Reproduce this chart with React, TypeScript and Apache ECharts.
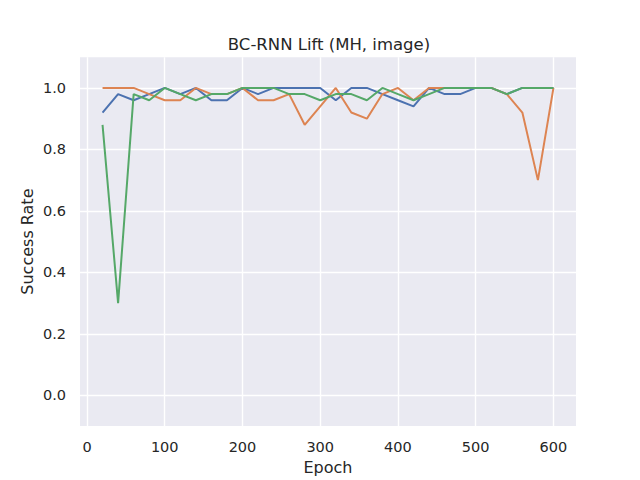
import React, { useEffect, useRef } from "react";
import * as echarts from "echarts";

const epochs = [20, 40, 60, 80, 100, 120, 140, 160, 180, 200, 220, 240, 260, 280, 300, 320, 340, 360, 380, 400, 420, 440, 460, 480, 500, 520, 540, 560, 580, 600];
const seriesBlue = [0.92, 0.98, 0.96, 0.98, 1.0, 0.98, 1.0, 0.96, 0.96, 1.0, 0.98, 1.0, 1.0, 1.0, 1.0, 0.96, 1.0, 1.0, 0.98, 0.96, 0.94, 1.0, 0.98, 0.98, 1.0, 1.0, 0.98, 1.0, 1.0, 1.0];
const seriesOrange = [1.0, 1.0, 1.0, 0.98, 0.96, 0.96, 1.0, 0.98, 0.98, 1.0, 0.96, 0.96, 0.98, 0.88, 0.94, 1.0, 0.92, 0.9, 0.98, 1.0, 0.96, 1.0, 1.0, 1.0, 1.0, 1.0, 0.98, 0.92, 0.7, 1.0];
const seriesGreen = [0.88, 0.3, 0.98, 0.96, 1.0, 0.98, 0.96, 0.98, 0.98, 1.0, 1.0, 1.0, 0.98, 0.98, 0.96, 0.98, 0.98, 0.96, 1.0, 0.98, 0.96, 0.98, 1.0, 1.0, 1.0, 1.0, 0.98, 1.0, 1.0, 1.0];
const xTicks = [0, 100, 200, 300, 400, 500, 600];
const yTicks = [0, 0.2, 0.4, 0.6, 0.8, 1.0];

const FONT = "DejaVu Sans";
const TEXT = "#262626";

export default function App() {
  const ref = useRef<HTMLDivElement>(null);
  useEffect(() => {
    if (!ref.current) return;
    const chart = echarts.init(ref.current, null, { renderer: "svg" });
    const mk = (vals: number[], color: string) => ({
      type: "line",
      data: epochs.map((e, i) => [e, vals[i]]),
      showSymbol: false,
      symbol: "none",
      lineStyle: { color, width: 2 },
      itemStyle: { color },
    });
    chart.setOption({
      animation: false,
      backgroundColor: "#ffffff",
      title: {
        text: "BC-RNN Lift (MH, image)",
        left: 324,
        top: 31,
        textAlign: "center",
        textStyle: { fontFamily: FONT, fontSize: 16.5, fontWeight: "normal", color: TEXT },
      },
      grid: {
        left: 80,
        right: 64,
        top: 57.2,
        bottom: 53.2,
        show: true,
        backgroundColor: "#eaeaf2",
        borderWidth: 0,
        containLabel: false,
      },
      xAxis: {
        type: "value",
        min: -9,
        max: 629,
        name: "Epoch",
        nameLocation: "middle",
        nameGap: 33,
        nameMoveOverlap: false,
        nameTextStyle: { fontFamily: FONT, fontSize: 16, color: TEXT },
        axisLine: { show: false },
        axisTick: { show: false, customValues: xTicks },
        axisLabel: { customValues: xTicks, fontFamily: FONT, fontSize: 14.5, color: TEXT, margin: 13 },
        splitLine: { show: true, lineStyle: { color: "#ffffff", width: 1.4 } },
      },
      yAxis: {
        type: "value",
        min: -0.1,
        max: 1.1,
        name: "Success Rate",
        nameLocation: "middle",
        nameGap: 45,
        nameMoveOverlap: false,
        nameTextStyle: { fontFamily: FONT, fontSize: 16, color: TEXT },
        axisLine: { show: false },
        axisTick: { show: false, customValues: yTicks },
        axisLabel: {
          customValues: yTicks,
          fontFamily: FONT,
          fontSize: 14.5,
          color: TEXT,
          margin: 14,
          formatter: (v: number) => v.toFixed(1),
        },
        splitLine: { show: true, lineStyle: { color: "#ffffff", width: 1.4 } },
      },
      series: [mk(seriesBlue, "#4c72b0"), mk(seriesOrange, "#dd8452"), mk(seriesGreen, "#55a868")],
    });
    return () => chart.dispose();
  }, []);
  return (
    <div
      ref={ref}
      style={{ position: "fixed", left: 0, top: 0, width: 640, height: 480 }}
    />
  );
}
